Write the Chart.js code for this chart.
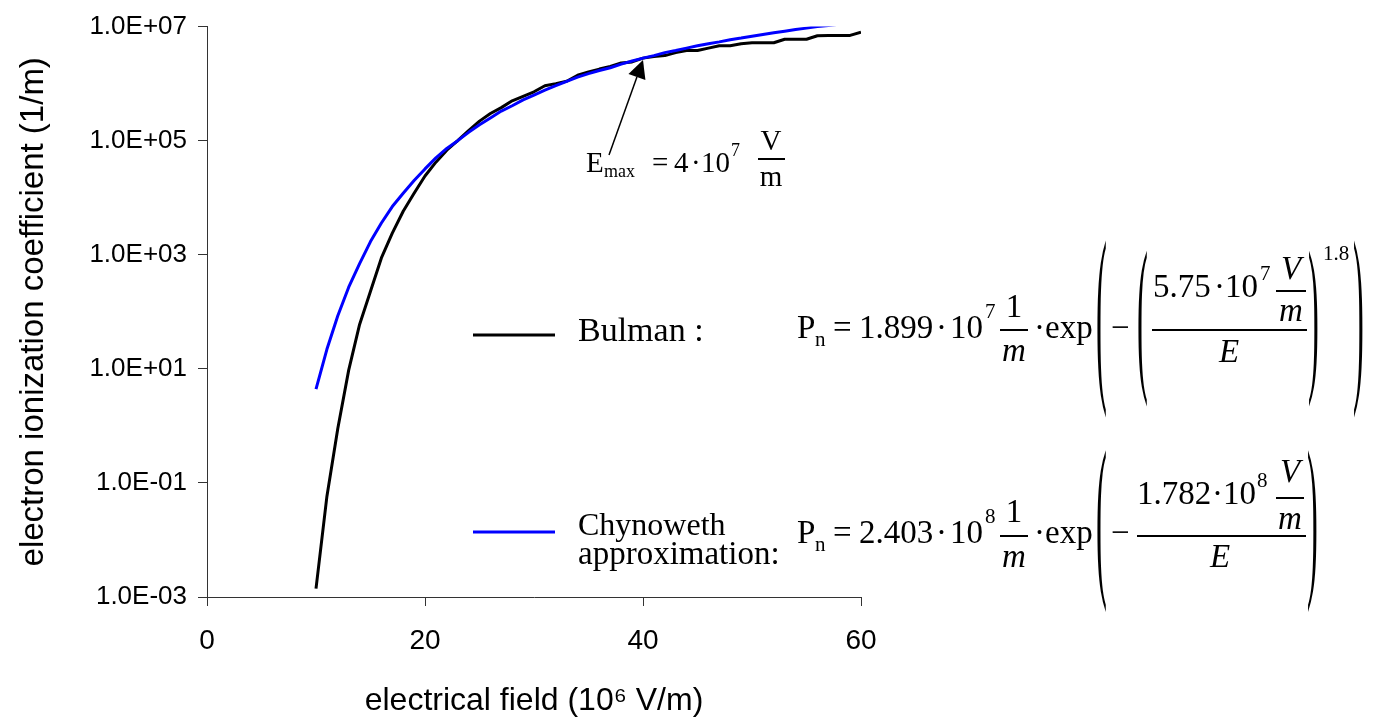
<!DOCTYPE html>
<html lang="en">
<head>
<meta charset="UTF-8" />
<title>Electron ionization coefficient</title>
<script src="https://cdn.jsdelivr.net/npm/chart.js"></script>
<style>
  html, body { margin: 0; padding: 0; background: #fff; }
  #wrap { position: relative; width: 1375px; height: 721px; }
  #formulas { position: absolute; left: 0; top: 0; width: 1375px; height: 721px; pointer-events: none;
              font-family: "Liberation Serif", "Times New Roman", serif; color: #000; }
  #formulas span { position: absolute; white-space: pre; line-height: 1; }
  #formulas .bar { position: absolute; height: 1.5px; background: #000; }
</style>
</head>
<body>
<div id="wrap">
  <canvas id="ionChart"></canvas>
  <div id="formulas"></div>
</div>

<script>
  // field strength in 10^6 V/m
  const bulmanField = [10, 11, 12, 13, 14, 15, 16, 17, 18, 19, 20, 21, 22, 23, 24, 25, 26, 27, 28, 29, 30,
    31, 32, 33, 34, 35, 36, 37, 38, 39, 40, 41, 42, 43, 44, 45, 46, 47, 48, 49, 50,
    51, 52, 53, 54, 55, 56, 57, 58, 59, 60];
  // ionization coefficient in 1/m
  const bulmanValues = [1.4e-3, 0.058, 0.9, 9.5, 60, 230, 880, 2400, 5800, 12000, 24000, 42000, 68000,
    1.0e5, 1.5e5, 2.2e5, 3.0e5, 3.8e5, 5.0e5, 6.0e5, 7.2e5, 9.2e5, 1.0e6, 1.1e6, 1.4e6, 1.6e6, 1.8e6,
    2.0e6, 2.3e6, 2.4e6, 2.8e6, 3.0e6, 3.1e6, 3.5e6, 3.8e6, 3.8e6, 4.2e6, 4.6e6, 4.6e6, 5.0e6, 5.2e6,
    5.2e6, 5.2e6, 6.0e6, 6.0e6, 6.0e6, 6.9e6, 7.0e6, 7.0e6, 7.0e6, 8.0e6];

  const chynowethField = [10, 11, 12, 13, 14, 15, 16, 17, 18, 19, 20, 21, 22, 23, 24, 25, 26, 27, 28, 29, 30,
    31, 32, 33, 34, 35, 36, 37, 38, 39, 40, 41, 42, 43, 44, 45, 46, 47, 48, 49, 50,
    51, 52, 53, 54, 55, 56, 57, 58];
  const chynowethValues = [4.4, 22, 85, 270, 700, 1700, 3600, 7000, 12000, 20000, 32000, 50000, 73000,
    1.0e5, 1.4e5, 1.9e5, 2.5e5, 3.3e5, 4.1e5, 5.2e5, 6.3e5, 7.7e5, 9.2e5, 1.1e6, 1.3e6, 1.5e6, 1.7e6,
    1.9e6, 2.2e6, 2.5e6, 2.8e6, 3.1e6, 3.5e6, 3.8e6, 4.2e6, 4.6e6, 5.0e6, 5.4e6, 5.9e6, 6.3e6, 6.8e6,
    7.3e6, 7.8e6, 8.3e6, 8.9e6, 9.4e6, 1.0e7, 1.05e7, 1.1e7];

  const yTickValues = [1e-3, 1e-1, 1e1, 1e3, 1e5, 1e7];
  const yTickLabels = ["1.0E-03", "1.0E-01", "1.0E+01", "1.0E+03", "1.0E+05", "1.0E+07"];
  const xTickStep = 20;

  // E_max marker: 4·10^7 V/m, arrow tip on the curves
  const emaxField = 40;
  const emaxTipValue = 2.6e6;

  Chart.defaults.font.family = '"Liberation Sans", Arial, sans-serif';
  Chart.defaults.color = "#000";

  // arrow to E_max and the two legend line samples
  const overlayMarks = {
    id: "overlayMarks",
    afterDraw(chart) {
      const ctx = chart.ctx;
      const tipX = chart.scales.x.getPixelForValue(emaxField);
      const tipY = chart.scales.y.getPixelForValue(emaxTipValue);
      const tailX = tipX - 34, tailY = tipY + 95;
      const len = Math.hypot(tipX - tailX, tipY - tailY);
      const ux = (tipX - tailX) / len, uy = (tipY - tailY) / len;
      const bx = tipX - ux * 18, by = tipY - uy * 18;
      ctx.save();
      ctx.strokeStyle = "#000";
      ctx.fillStyle = "#000";
      ctx.lineWidth = 1.5;
      ctx.beginPath();
      ctx.moveTo(tailX, tailY);
      ctx.lineTo(bx, by);
      ctx.stroke();
      ctx.beginPath();
      ctx.moveTo(tipX, tipY);
      ctx.lineTo(bx - uy * 9, by + ux * 9);
      ctx.lineTo(bx + uy * 9, by - ux * 9);
      ctx.closePath();
      ctx.fill();

      const rows = [335, 532];
      chart.data.datasets.forEach((ds, i) => {
        ctx.strokeStyle = ds.borderColor;
        ctx.lineWidth = ds.borderWidth;
        ctx.beginPath();
        ctx.moveTo(473, rows[i]);
        ctx.lineTo(555, rows[i]);
        ctx.stroke();
      });
      ctx.restore();
    }
  };

  const axisGrid = { drawOnChartArea: false, tickLength: 9, color: "#333", tickColor: "#333" };

  new Chart(document.getElementById("ionChart"), {
    type: "line",
    data: {
      datasets: [
        {
          label: "Bulman",
          data: bulmanField.map((x, i) => ({ x, y: bulmanValues[i] })),
          borderColor: "#000000",
          borderWidth: 3,
          order: 2
        },
        {
          label: "Chynoweth approximation",
          data: chynowethField.map((x, i) => ({ x, y: chynowethValues[i] })),
          borderColor: "#0000ff",
          borderWidth: 3,
          order: 1
        }
      ]
    },
    options: {
      responsive: true,
      maintainAspectRatio: false,
      animation: false,
      layout: { padding: { top: 23, right: 514, bottom: 0, left: 0 } },
      elements: {
        point: { radius: 0 },
        line: { tension: 0, borderJoinStyle: "round" }
      },
      plugins: { legend: { display: false }, tooltip: { enabled: false } },
      scales: {
        x: {
          type: "linear",
          min: 0,
          max: 60,
          afterFit: s => { s.height = 124; },
          ticks: { stepSize: xTickStep, padding: 18, maxRotation: 0, font: { size: 28 } },
          grid: axisGrid,
          border: { color: "#333", width: 1 },
          title: {
            display: true,
            text: "electrical field (10⁶ V/m)",
            font: { size: 32 },
            padding: { top: 0, bottom: 1 }
          }
        },
        y: {
          type: "logarithmic",
          min: 1e-3,
          max: 1e7,
          afterFit: s => { s.width = 207; },
          afterBuildTicks: s => { s.ticks = yTickValues.map(v => ({ value: v })); },
          ticks: {
            padding: 11,
            font: { size: 26 },
            callback: (v, i) => yTickLabels[i]
          },
          grid: axisGrid,
          border: { color: "#333", width: 1 },
          title: {
            display: true,
            text: "electron ionization coefficient (1/m)",
            font: { size: 33 },
            padding: { top: 14, bottom: 0 }
          }
        }
      }
    },
    plugins: [overlayMarks]
  });

  // ---- formulas beside the plot (serif, placed by baseline) ----
  const box = document.getElementById("formulas");

  function put(text, left, base, size, opts = {}) {
    const s = document.createElement("span");
    s.textContent = text;
    s.style.left = left + "px";
    s.style.top = (base - 0.8375 * size) + "px";
    s.style.fontSize = size + "px";
    if (opts.italic) s.style.fontStyle = "italic";
    if (opts.center) s.style.transform = "translateX(-50%)";
    box.appendChild(s);
    return s;
  }

  function bar(x1, x2, y) {
    const d = document.createElement("div");
    d.className = "bar";
    d.style.left = x1 + "px";
    d.style.width = (x2 - x1) + "px";
    d.style.top = y + "px";
    box.appendChild(d);
  }

  // tall bracket: a normal glyph stretched to span top..bottom
  function paren(ch, left, top, bottom, size) {
    const s = put(ch, left, 0, size);
    const mid = (top + bottom) / 2;
    s.style.top = (mid - 0.58 * size) + "px";
    s.style.transformOrigin = "50% " + (0.58 * size) + "px";
    s.style.transform = "scale(1.25, " + ((bottom - top) / (0.875 * size)).toFixed(3) + ")";
  }

  const it = { italic: true, center: true };
  const mid = { center: true };

  // Bulman
  put("Bulman :", 578, 341, 34);
  put("P", 797, 339, 33); put("n", 815, 347, 21);
  put("=", 833, 339, 33);
  put("1.899", 859, 339, 33); put("·", 936, 339, 33); put("10", 950, 339, 33); put("7", 985, 319, 21);
  put("1", 1014, 318, 33, mid); bar(1000, 1028, 329); put("m", 1014, 362, 33, it);
  put("·exp", 1034, 339, 33);
  paren("(", 1097, 246, 417, 26);
  put("−", 1111, 339, 33);
  paren("(", 1138, 256, 407, 26);
  put("5.75", 1153, 298, 33); put("·", 1214, 298, 33); put("10", 1225, 298, 33); put("7", 1260, 281, 21);
  put("V", 1291, 280, 33, it); bar(1276, 1306, 290); put("m", 1291, 322, 33, it);
  bar(1152, 1307, 329);
  put("E", 1229, 363, 33, it);
  paren(")", 1309, 256, 407, 26);
  put("1.8", 1323, 261, 21);
  paren(")", 1354, 246, 417, 26);

  // Chynoweth
  put("Chynoweth", 578, 535, 32);
  put("approximation:", 578, 565, 33);
  put("P", 797, 544, 33); put("n", 815, 552, 21);
  put("=", 833, 544, 33);
  put("2.403", 859, 544, 33); put("·", 936, 544, 33); put("10", 950, 544, 33); put("8", 985, 524, 21);
  put("1", 1014, 523, 33, mid); bar(1000, 1028, 535); put("m", 1014, 568, 33, it);
  put("·exp", 1034, 544, 33);
  paren("(", 1097, 457, 612, 26);
  put("−", 1111, 544, 33);
  put("1.782", 1137, 505, 33); put("·", 1212, 505, 33); put("10", 1223, 505, 33); put("8", 1257, 488, 21);
  put("V", 1290, 483, 33, it); bar(1276, 1304, 497); put("m", 1290, 530, 33, it);
  bar(1137, 1306, 535);
  put("E", 1220, 568, 33, it);
  paren(")", 1308, 457, 612, 26);

  // E_max label under the arrow
  put("E", 586, 172, 29); put("max", 604, 177, 18);
  put("=", 652, 172, 29);
  put("4", 674, 172, 29); put("·", 691, 172, 29); put("10", 701, 172, 29); put("7", 731, 156, 18);
  put("V", 771, 150, 29, mid); bar(758, 785, 158); put("m", 771, 186, 29, mid);
</script>
</body>
</html>
